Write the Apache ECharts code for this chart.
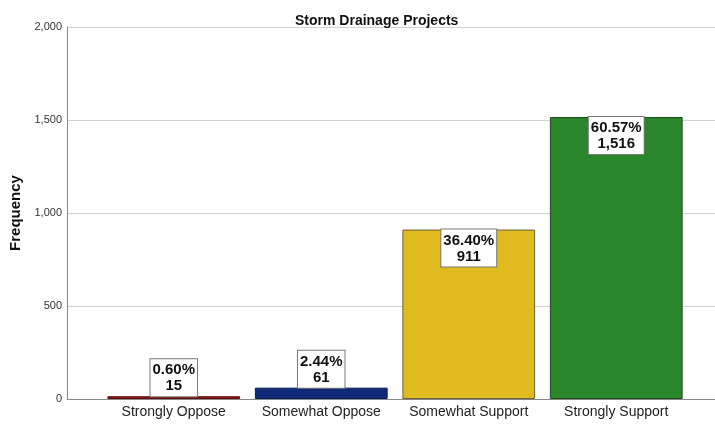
<!DOCTYPE html>
<html>
<head>
<meta charset="utf-8">
<script src="https://cdn.jsdelivr.net/npm/echarts@6/dist/echarts.min.js"></script>
<style>
  html, body { margin: 0; padding: 0; background: #fff; }
  #chart { width: 715px; height: 424px; }
</style>
</head>
<body>
<div id="chart"></div>
<script>
let chart = echarts.init(document.getElementById("chart"));

var categories = ["Strongly Oppose", "Somewhat Oppose", "Somewhat Support", "Strongly Support"]
var counts = [15, 61, 911, 1516]
var percents = ["0.60%", "2.44%", "36.40%", "60.57%"]
var colors = ["#a01818", "#0e2a78", "#e0bb20", "#2a862a"]
var borders = ["#5a1010", "#0a1c50", "#6e6238", "#1f4a1f"]
var yTicks = [0, 500, 1000, 1500, 2000]

var fmt = function (v) { return v.toLocaleString("en-US") }

var barData = []
for (var i = 0; i < counts.length; i++) {
    barData.push({
        value: counts[i],
        itemStyle: { color: colors[i], borderColor: borders[i] },
        label: { position: counts[i] > 300 ? "insideTop" : "top", distance: 0 }
    })
}

let option = {
    animation: false,
    title: {
        text: "Storm Drainage Projects",
        left: 290,
        top: 9,
        textStyle: { fontFamily: "Liberation Sans", fontSize: 14, fontWeight: "bold", color: "#111" }
    },
    grid: [
        // background grid: axis line, gridlines, y labels
        { left: 67, right: 0, top: 27, bottom: 25, outerBoundsMode: "none", containLabel: false },
        // bars
        { left: 100, right: 25, top: 27, bottom: 25, outerBoundsMode: "none", containLabel: false }
    ],
    xAxis: [
        {
            gridIndex: 0, type: "value", min: 0, max: 1,
            axisLine: { show: true, lineStyle: { color: "#888" } },
            axisTick: { show: false }, axisLabel: { show: false }, splitLine: { show: false }
        },
        {
            gridIndex: 1, type: "category", data: categories,
            axisLine: { show: false }, axisTick: { show: false },
            axisLabel: { interval: 0, fontFamily: "Liberation Sans", fontSize: 14, color: "#222", margin: 6 }
        }
    ],
    yAxis: [
        {
            gridIndex: 0, type: "value", min: yTicks[0], max: yTicks[yTicks.length - 1], interval: 500,
            name: "Frequency", nameLocation: "middle", nameGap: 43,
            nameTextStyle: { fontFamily: "Liberation Sans", fontSize: 15, fontWeight: "bold", color: "#111" },
            axisLine: { show: true, lineStyle: { color: "#888" } },
            axisTick: { show: false },
            axisLabel: { formatter: fmt, fontFamily: "Liberation Sans", fontSize: 11, color: "#333", margin: 5 },
            splitLine: { lineStyle: { color: "#d2d2d2" } }
        },
        {
            gridIndex: 1, type: "value", min: yTicks[0], max: yTicks[yTicks.length - 1],
            show: false
        }
    ],
    series: [{
        type: "bar",
        xAxisIndex: 1,
        yAxisIndex: 1,
        data: barData,
        barCategoryGap: "10%",
        itemStyle: { borderWidth: 1 },
        label: {
            show: true,
            formatter: function (p) { return percents[p.dataIndex] + "\n" + fmt(counts[p.dataIndex]) },
            fontFamily: "Liberation Sans",
            fontSize: 15,
            fontWeight: "bold",
            color: "#111",
            lineHeight: 16,
            backgroundColor: "#fff",
            borderColor: "#777",
            borderWidth: 1,
            padding: [3, 2, 2, 2]
        }
    }]
};

chart.setOption(option);
</script>
</body>
</html>
